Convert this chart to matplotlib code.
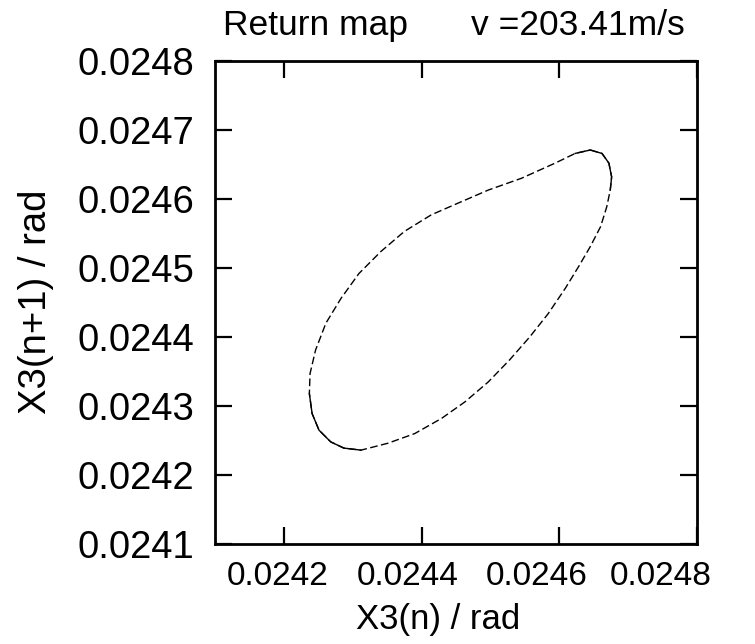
import matplotlib
matplotlib.use("Agg")
import matplotlib.pyplot as plt
import matplotlib.transforms as mtransforms
import numpy as np

plt.rcParams['font.family'] = ['Liberation Sans', 'DejaVu Sans']

# Return-map loop points (X3(n), X3(n+1)) in rad
x3_n = [0.024645, 0.024662, 0.024672, 0.024676, 0.024674, 0.024669, 0.024660,
        0.024645, 0.024628, 0.024609, 0.024584, 0.024557, 0.024528, 0.024497,
        0.024463, 0.024429, 0.024390, 0.024351, 0.024312, 0.024287, 0.024268,
        0.024251, 0.024241, 0.024237, 0.024238, 0.024246, 0.024261, 0.024283,
        0.024309, 0.024341, 0.024375, 0.024414, 0.024453, 0.024497, 0.024545,
        0.024594, 0.024623, 0.024645]
x3_n1 = [0.024671, 0.024666, 0.024652, 0.024632, 0.024613, 0.024589, 0.024560,
         0.024531, 0.024502, 0.024471, 0.024434, 0.024400, 0.024367, 0.024335,
         0.024306, 0.024282, 0.024260, 0.024246, 0.024236, 0.024239, 0.024248,
         0.024265, 0.024289, 0.024318, 0.024347, 0.024381, 0.024420, 0.024456,
         0.024492, 0.024524, 0.024553, 0.024577, 0.024594, 0.024613, 0.024630,
         0.024652, 0.024666, 0.024671]

xticks = [0.0242, 0.0244, 0.0246, 0.0248]
xtick_labels = ['0.0242', '0.0244', '0.0246', '0.0248']
yticks = [0.0241, 0.0242, 0.0243, 0.0244, 0.0245, 0.0246, 0.0247, 0.0248]
ytick_labels = ['0.0241', '0.0242', '0.0243', '0.0244', '0.0245', '0.0246', '0.0247', '0.0248']

fig = plt.figure(figsize=(7.55, 6.44), dpi=100)
ax = fig.add_axes([0.2848, 0.1553, 0.6384, 0.75])

xs = np.array(x3_n)
ys = np.array(x3_n1)
# dashed body of the loop
ax.plot(xs, ys, color='black', lw=1.0, linestyle=(0, (5.5, 2.5)))
# denser (solid-looking) parts: top-right tip and bottom-left turn
tip = list(range(36, 38)) + list(range(0, 5))
ax.plot(xs[tip], ys[tip], color='black', lw=1.0)
bl = list(range(18, 24))
ax.plot(xs[bl], ys[bl], color='black', lw=1.0)

ax.set_xlim(0.0241, 0.0248)
ax.set_ylim(0.0241, 0.0248)

for s in ax.spines.values():
    s.set_linewidth(2)

ax.tick_params(direction='in', length=12, width=1.6, top=True, right=True,
               labelsize=27.5, pad=15)
ax.set_xticks(xticks)
ax.set_xticklabels([])
ax.set_yticks(yticks)
ax.set_yticklabels(ytick_labels)

# x tick labels (slightly compressed spacing as in the original)
xoffs_px = [-6, -14, -23, -36]
for xv, lab, dx in zip(xticks, xtick_labels, xoffs_px):
    tr = mtransforms.blended_transform_factory(ax.transData, ax.transAxes) + \
        mtransforms.ScaledTranslation(dx / 100.0, -33 / 100.0, fig.dpi_scale_trans)
    ax.text(xv, 0, lab, transform=tr, ha='center', va='center', fontsize=24,
            clip_on=False)

fig.text(438 / 755, 1 - 620 / 644, 'X3(n) / rad', ha='center', va='center', fontsize=25)
fig.text(36 / 755, 1 - 302 / 644, 'X3(n+1) / rad', ha='center', va='center',
         rotation=90, fontsize=27.5)

fig.text(223 / 755, 1 - 35 / 644, 'Return map', ha='left', va='baseline', fontsize=25.5)
fig.text(685 / 755, 1 - 35 / 644, 'v =203.41m/s', ha='right', va='baseline', fontsize=25.5)

fig.savefig('out.png', dpi=100)
